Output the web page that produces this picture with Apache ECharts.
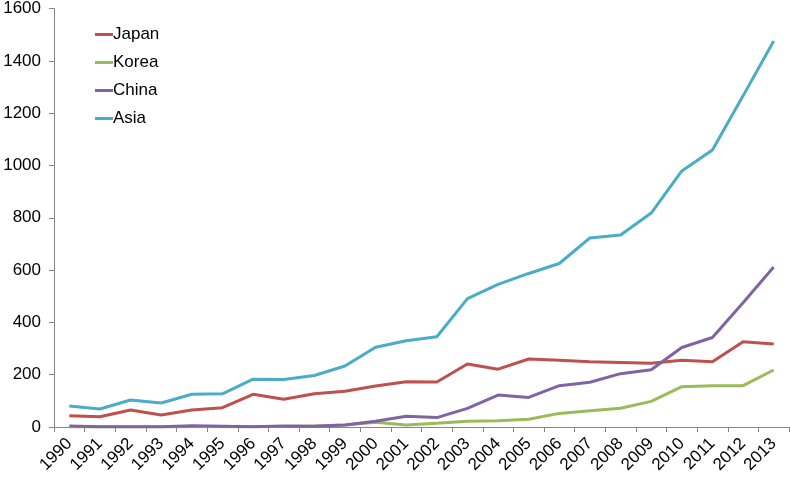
<!DOCTYPE html>
<html><head><meta charset="utf-8">
<script src="https://cdn.jsdelivr.net/npm/echarts@6/dist/echarts.min.js"></script>
<style>html,body{margin:0;padding:0;background:#fff}#c{width:790px;height:479px}</style>
</head><body><div id="c"></div>
<script>
const years = ['1990','1991','1992','1993','1994','1995','1996','1997','1998','1999','2000','2001','2002','2003','2004','2005','2006','2007','2008','2009','2010','2011','2012','2013'];
const japan = [43,39,65,46,65,74,125,106,127,137,157,173,172,241,221,260,255,249,247,244,255,249,326,317];
const korea = [0,0,0,0,1,1,1,2,4,8,18,8,14,22,24,30,52,62,72,98,154,158,158,218];
const china = [4,1,1,1,5,3,1,4,3,8,22,41,36,71,122,113,158,171,204,219,304,342,475,612];
const asia = [80,69,103,92,125,127,183,182,197,233,305,330,345,491,545,587,625,723,734,818,979,1059,1266,1476];
const yTicks = [0,200,400,600,800,1000,1200,1400,1600];

const names = ['Japan','Korea','China','Asia'];
const colors = ['#C0504D','#9BBB59','#8064A2','#4BACC6'];
const dataSets = [japan, korea, china, asia];

const chart = echarts.init(document.getElementById('c'));
chart.setOption({
  animation: false,
  textStyle: {fontFamily: 'Liberation Sans, Arial, sans-serif'},
  grid: {left: 54, right: 1, top: 8, bottom: 52},
  legend: {
    orient: 'vertical', left: 90, top: 21, itemGap: 11,
    itemWidth: 18, itemHeight: 3, icon: 'rect',
    textStyle: {fontSize: 17, color: '#000', padding: [0,0,0,-5]},
    data: names
  },
  xAxis: {
    type: 'category', data: years, boundaryGap: true,
    axisLine: {lineStyle: {color: '#868686', width: 1}},
    axisTick: {show: true, length: 5, lineStyle: {color: '#868686'}},
    axisLabel: {rotate: 45, fontSize: 17, color: '#000', margin: 14, interval: 0}
  },
  yAxis: {
    type: 'value', min: yTicks[0], max: yTicks[yTicks.length-1], interval: 200,
    splitLine: {show: false},
    axisLine: {show: true, lineStyle: {color: '#868686', width: 1}},
    axisTick: {show: true, length: 5, lineStyle: {color: '#868686'}},
    axisLabel: {fontSize: 17, color: '#000', margin: 13, formatter: v => String(v)}
  },
  series: names.map((n, i) => ({
    name: n, type: 'line', data: dataSets[i], symbol: 'none',
    lineStyle: {color: colors[i], width: 3}, itemStyle: {color: colors[i]}
  }))
});
</script></body></html>
